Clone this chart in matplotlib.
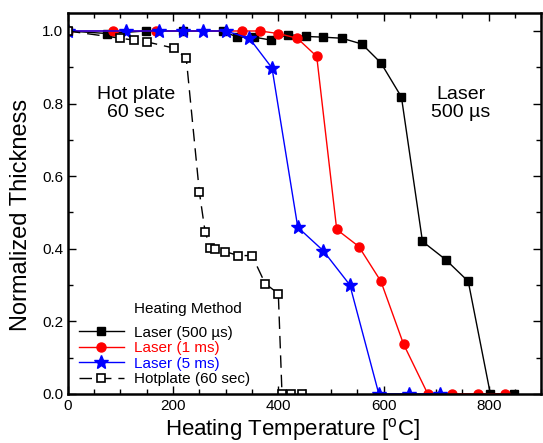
import matplotlib
matplotlib.use('Agg')
import matplotlib.pyplot as plt
from matplotlib.ticker import MultipleLocator

plt.rcParams['font.family'] = ['Liberation Sans', 'DejaVu Sans']

# Laser 500 us
t_500us = [0, 75, 148, 218, 294, 322, 354, 386, 419, 452, 485, 521, 559, 595, 634, 674, 718, 761, 803, 848]
h_500us = [1.0, 0.993, 1.0, 1.0, 1.0, 0.983, 0.983, 0.975, 0.99, 0.985, 0.983, 0.98, 0.964, 0.912, 0.818,
           0.42, 0.37, 0.31, 0.0, 0.0]
# Laser 1 ms
t_1ms = [0, 85, 168, 331, 365, 400, 436, 473, 511, 553, 595, 638, 684, 731, 780, 831]
h_1ms = [1.0, 1.0, 1.0, 1.0, 1.0, 0.993, 0.98, 0.93, 0.453, 0.406, 0.31, 0.137, 0.0, 0.0, 0.0, 0.0]
# Laser 5 ms
t_5ms = [0, 111, 173, 218, 257, 300, 345, 388, 437, 485, 536, 591, 648, 708]
h_5ms = [1.0, 1.0, 1.0, 1.0, 1.0, 1.0, 0.98, 0.898, 0.459, 0.395, 0.30, 0.0, 0.0, 0.0]
# Hotplate 60 sec
t_hot = [0, 100, 125, 150, 201, 225, 250, 261, 271, 280, 299, 324, 350, 375, 400, 407, 425, 445]
h_hot = [1.0, 0.98, 0.975, 0.97, 0.953, 0.925, 0.555, 0.445, 0.403, 0.398, 0.392, 0.381, 0.381, 0.304,
         0.276, 0.0, 0.0, 0.0]

fig = plt.figure(figsize=(5.43, 4.43), dpi=100)
ax = fig.add_axes([0.125, 0.111, 0.872, 0.86])

ax.plot(t_500us, h_500us, '-', color='black', lw=1, marker='s', ms=5.5, label='Laser (500 \u00b5s)')
ax.plot(t_1ms, h_1ms, '-', color='red', lw=1, marker='o', ms=6.5, label='Laser (1 ms)')
ax.plot(t_5ms, h_5ms, '-', color='blue', lw=1, marker='*', ms=10, label='Laser (5 ms)')
ax.plot(t_hot, h_hot, color='black', lw=1, ls=(0, (9, 5)), marker='s', ms=5.5, mfc='white', mew=1.2,
        label='Hotplate (60 sec)')

ax.set_xlim(0, 900)
ax.set_ylim(0, 1.05)
ax.xaxis.set_major_locator(MultipleLocator(200))
ax.xaxis.set_minor_locator(MultipleLocator(50))
ax.yaxis.set_major_locator(MultipleLocator(0.2))
ax.yaxis.set_minor_locator(MultipleLocator(0.1))
ax.tick_params(which='both', direction='in', top=True, right=True, labelsize=11)
ax.tick_params(which='major', length=6, width=1)
ax.tick_params(which='minor', length=3.5, width=1)
for s in ax.spines.values():
    s.set_linewidth(1.8)

ax.set_xlabel('Heating Temperature [$^{\\mathregular{o}}$C]', fontsize=16)
ax.set_ylabel('Normalized Thickness', fontsize=17)
ax.xaxis.set_label_coords(0.475, -0.058)
ax.yaxis.set_label_coords(-0.075, 0.47)

ax.text(130, 0.80, 'Hot plate\n60 sec', fontsize=14, ha='center', va='center', linespacing=1.1)
ax.text(747, 0.80, 'Laser\n500 \u00b5s', fontsize=14, ha='center', va='center', linespacing=1.1)

leg = ax.legend(loc='lower left', bbox_to_anchor=(0.0, -0.008), frameon=False, fontsize=11,
                handlelength=3.0, labelspacing=0.1, borderaxespad=0.3, handletextpad=0.6)
for txt, c in zip(leg.get_texts(), ['black', 'red', 'blue', 'black']):
    txt.set_color(c)
ax.text(125, 0.235, 'Heating Method', fontsize=11, ha='left', va='center')

fig.savefig('out.png', dpi=100)
